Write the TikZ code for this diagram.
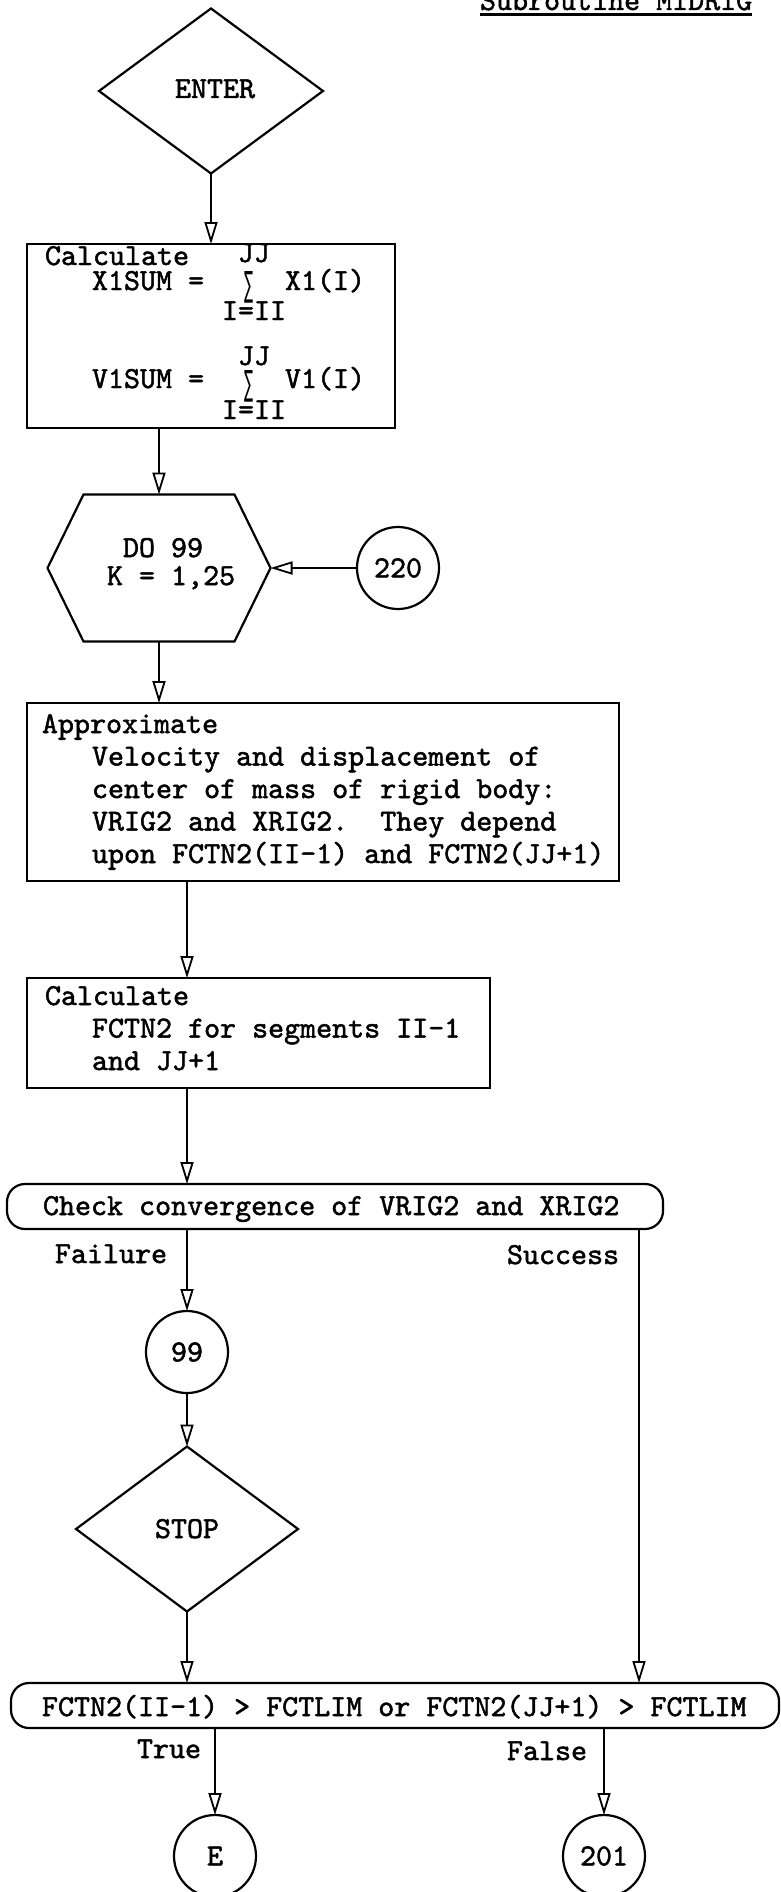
\documentclass[tikz,border=0pt]{standalone}
\usepackage{fontspec}
\usetikzlibrary{arrows.meta,shapes.geometric,calc}
\newfontfamily\typer{lmmono10-regular}[Extension=.otf, FakeBold=1.6]
\newfontfamily\symfam{DejaVu Sans}
\newcommand\twfont{\typer\fontsize{30.5}{32.5}\selectfont}
\newcommand\sumsign{\resizebox{9pt}{25pt}{\symfam ∑}}
\begin{document}
\begin{tikzpicture}[x=1pt,y=-1pt,
  every node/.style={font=\twfont, inner sep=0pt, outer sep=0pt},
  txt/.style={anchor=base west},
  ctxt/.style={anchor=base},
  outline/.style={draw, line width=2.2pt},
  boxnode/.style={outline, rectangle},
  roundnode/.style={outline, rectangle, rounded corners=18pt},
  decide/.style={outline, diamond},
  conn/.style={outline, circle, minimum size=82pt},
  flow/.style={draw, line width=2.2pt,
    -{Triangle[open, length=22pt, width=13pt, line width=1.8pt]}}]

% page
\fill[white] (0,0) rectangle (780,1892);
\useasboundingbox (0,0) rectangle (780,1892);

% columns used by the vertical connectors
\coordinate (colB) at (187,0);
\coordinate (colS) at (639,0);

% heading
\node[txt] (title) at (480,10) {Subroutine MIDRIG};
\draw[line width=3pt] ([yshift=-5pt]title.base west) -- ([yshift=-5pt]title.base east);

% entry
\node[decide, minimum width=224pt, minimum height=165pt] (enter) at (211,91) {};
\node[ctxt] (entertxt) at (215,98) {ENTER};

% sums
\node[boxnode, minimum width=368pt, minimum height=184pt] (box1) at (211,336) {};
\node[txt] (b1a) at (45,265) {Calculate};
\node[txt] (b1b) at (238,262) {JJ};
\node[txt] (b1c) at (92,290) {X1SUM =};
\node (b1d) at (249,287.5) {\sumsign};
\node[txt] (b1e) at (285,290) {X1(I)};
\node[txt] (b1f) at (222,320) {I=II};
\node[txt] (b1g) at (238,365) {JJ};
\node[txt] (b1h) at (92,388) {V1SUM =};
\node (b1i) at (249,386.5) {\sumsign};
\node[txt] (b1j) at (285,388) {V1(I)};
\node[txt] (b1k) at (222,419) {I=II};

% loop
\node[minimum width=223pt, minimum height=147pt] (hex) at (159,568) {};
\draw[outline] (hex.west) -- ([xshift=36pt]hex.north west) -- ([xshift=-36pt]hex.north east)
  -- (hex.east) -- ([xshift=-36pt]hex.south east) -- ([xshift=36pt]hex.south west) -- cycle;
\node[txt] (hexa) at (123,557) {DO 99};
\node[txt] (hexb) at (107,585) {K = 1,25};
\node[conn] (c220) at (398,568) {220};

% rigid body estimate
\node[boxnode, minimum width=592pt, minimum height=178pt] (approx) at (323,792) {};
\node[txt] (ap1) at (42,733) {Approximate};
\node[txt] (ap2) at (92,765.5) {Velocity and displacement of};
\node[txt] (ap3) at (92,798) {center of mass of rigid body:};
\node[txt] (ap4) at (92,830.5) {VRIG2 and XRIG2.\ \ They depend};
\node[txt] (ap5) at (92,863) {upon FCTN2(II-1) and FCTN2(JJ+1)};

% end segments
\node[boxnode, minimum width=463pt, minimum height=110pt] (box2) at (258.5,1033) {};
\node[txt] (b2a) at (45,1005) {Calculate};
\node[txt] (b2b) at (92,1037.5) {FCTN2 for segments II-1};
\node[txt] (b2c) at (92,1070) {and JJ+1};

% convergence test
\node[roundnode, minimum width=656pt, minimum height=45pt] (check) at (335,1206.5) {};
\node[txt] (checktxt) at (43,1215) {Check convergence of VRIG2 and XRIG2};
\node[txt] (fail) at (55,1263) {Failure};
\node[txt] (succ) at (507,1264) {Success};

\node[conn] (c99) at (187,1352) {99};
\node[decide, minimum width=222pt, minimum height=165pt] (stop) at (187,1529) {};
\node[ctxt] (stoptxt) at (187,1538) {STOP};

% limit test
\node[roundnode, minimum width=768pt, minimum height=45pt] (limit) at (395,1705.5) {};
\node[txt] (limittxt) at (42,1716) {FCTN2(II-1) > FCTLIM or FCTN2(JJ+1) > FCTLIM};
\node[txt] (true) at (137,1758) {True};
\node[txt] (false) at (507,1760) {False};

\node[conn] (cE) at (215,1856) {E};
\node[conn] (c201) at (604,1856) {201};

% connectors
\draw[flow] (enter.south) -- (enter.south |- box1.north);
\draw[flow] (box1.south -| hex.north) -- (hex.north);
\draw[flow] (c220.west) -- (hex.east);
\draw[flow] (hex.south) -- (hex.south |- approx.north);
\draw[flow] (approx.south -| colB) -- (box2.north -| colB);
\draw[flow] (box2.south -| colB) -- (check.north -| colB);
\draw[flow] (check.south -| colB) -- (c99.north);
\draw[flow] (c99.south) -- (stop.north);
\draw[flow] (stop.south) -- (stop.south |- limit.north);
\draw[flow] (check.south -| colS) -- (limit.north -| colS);
\draw[flow] (limit.south -| cE) -- (cE.north);
\draw[flow] (limit.south -| c201) -- (c201.north);
\end{tikzpicture}
\end{document}
